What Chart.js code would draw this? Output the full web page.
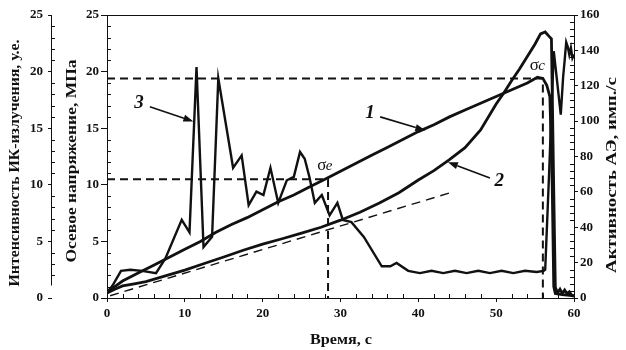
<!DOCTYPE html>
<html>
<head>
<meta charset="utf-8">
<script src="https://cdn.jsdelivr.net/npm/chart.js@4.4.1/dist/chart.umd.min.js"></script>
<style>
  html, body { margin: 0; padding: 0; background: #fff; }
</style>
</head>
<body>
<canvas id="chart" width="626" height="350"></canvas>
<script>
/* Curve 1 — axial stress, MPa (middle left axis) */
const stressTime = [0, 1, 2, 4, 6, 8, 10, 12, 14, 16, 18, 20, 22, 24, 26, 28, 30, 32, 34, 36, 38,
  40, 42, 44, 46, 48, 50, 52, 54, 55.3, 56.0, 56.5, 56.9, 57.2, 57.4, 57.6, 58.5, 60];
const stressValues = [0.6, 1.0, 1.5, 2.2, 2.9, 3.6, 4.3, 5.0, 5.8, 6.5, 7.1, 7.8, 8.5, 9.1, 9.8, 10.5,
  11.2, 11.9, 12.6, 13.3, 14.0, 14.7, 15.3, 16.0, 16.6, 17.2, 17.8, 18.4, 19.0, 19.5, 19.4, 18.8,
  17.8, 10.0, 1.0, 0.4, 0.3, 0.2];

/* Curve 2 — acoustic emission activity, imp/s (right axis) */
const aeTime = [0, 1, 2, 3.5, 5, 7.5, 10, 12.5, 15, 17.5, 20, 22.5, 25, 27.5, 30, 32.5, 35, 37.5,
  40, 42, 44, 46, 48, 50, 51, 52, 53, 54, 55, 55.7, 56.3, 56.8, 57.1, 57.4, 57.6, 57.9, 58.2,
  58.5, 58.8, 59.1, 59.4, 59.7, 60];
const aeValues = [2.8, 5, 6.8, 8, 9.3, 12.5, 15.8, 19.5, 23.2, 27, 30.5, 33.5, 36.7, 40, 44, 48.5,
  53.7, 59.5, 66.7, 72, 78.2, 85, 95, 109.7, 116, 123, 129.5, 136.5, 143.6, 149.3, 150.4, 147.9,
  146.5, 60, 6, 3, 5, 2.5, 4.5, 2.5, 3.5, 1.5, 1];

/* Curve 3 — IR emission intensity, a.u. (outer left axis) */
const irTime = [0, 0.8, 1.8, 3.0, 4.5, 6.3, 7.5, 9.6, 10.6, 11.5, 12.4, 13.5, 14.3, 16.2, 17.3,
  18.2, 19.2, 20.1, 21.0, 22.0, 23.1, 24.0, 24.8, 25.4, 26.0, 26.7, 27.6, 28.6, 29.6, 30.3, 31.4,
  33.0, 35.3, 36.4, 37.2, 38.7, 40.2, 41.7, 43.2, 44.7, 46.2, 47.7, 49.2, 50.7, 52.2, 53.7, 55.2,
  56.1, 56.3, 56.8, 57.4, 58.3, 58.6, 58.8, 59.0, 59.2, 59.4, 59.6, 59.8, 60];
const irValues = [0.4, 1.2, 2.4, 2.5, 2.4, 2.2, 3.5, 6.9, 5.8, 20.4, 4.5, 5.4, 19.4, 11.5, 12.6,
  8.2, 9.4, 9.1, 11.5, 8.4, 10.4, 10.7, 12.9, 12.3, 10.7, 8.4, 9.1, 7.3, 8.4, 6.9, 6.7, 5.4, 2.8,
  2.8, 3.1, 2.4, 2.2, 2.4, 2.2, 2.4, 2.2, 2.4, 2.2, 2.4, 2.2, 2.4, 2.3, 2.4, 2.5, 11, 21.8, 16.2,
  19.5, 21.0, 22.6, 22.2, 21.5, 22.1, 21.2, 21.5];

/* Characteristic stresses and the tangent to curve 2 */
const sigmaE = 10.5, sigmaETime = 28.4;
const sigmaC = 19.4, sigmaCTime = 56.0;
const tangentTime = [0.4, 44.1];
const tangentValues = [0.2, 9.3];

const xTicks = [0, 10, 20, 30, 40, 50, 60];

const SERIF = '"Liberation Serif", "DejaVu Serif", serif';
const INK = '#111';

const pts = (xs, ys) => xs.map((x, i) => ({ x, y: ys[i] }));

function line(ctx, x1, y1, x2, y2) {
  ctx.beginPath();
  ctx.moveTo(x1, y1);
  ctx.lineTo(x2, y2);
  ctx.stroke();
}

function arrow(ctx, x1, y1, x2, y2) {
  const ang = Math.atan2(y2 - y1, x2 - x1);
  const len = 10, half = 3.6;
  const bx = x2 - len * Math.cos(ang), by = y2 - len * Math.sin(ang);
  ctx.lineWidth = 1.6;
  line(ctx, x1, y1, bx, by);
  ctx.beginPath();
  ctx.moveTo(x2, y2);
  ctx.lineTo(bx + half * Math.sin(ang), by - half * Math.cos(ang));
  ctx.lineTo(bx - half * Math.sin(ang), by + half * Math.cos(ang));
  ctx.closePath();
  ctx.fill();
}

/* Draw a rotated title stretched to the length it has in the picture */
function fittedText(ctx, text, cx, cy, length, rot, font) {
  ctx.save();
  ctx.translate(cx, cy);
  ctx.rotate(rot);
  ctx.font = font;
  const w = ctx.measureText(text).width;
  ctx.scale(length / w, 1);
  ctx.textAlign = 'center';
  ctx.textBaseline = 'middle';
  ctx.fillText(text, 0, 0);
  ctx.restore();
}

function sigmaLabel(ctx, sub, px, py) {
  ctx.textAlign = 'left';
  ctx.textBaseline = 'alphabetic';
  ctx.font = `17px ${SERIF}`;
  ctx.fillText('σ', px, py);
  const w = ctx.measureText('σ').width;
  ctx.font = `italic 15px ${SERIF}`;
  ctx.fillText(sub, px + w - 0.5, py);
}

/* Everything Chart.js has no option for: inner minor ticks, top frame,
   the short outer axis line, axis titles and the curve labels. */
const decor = {
  id: 'decor',
  afterDraw(chart) {
    const { ctx, chartArea: a } = chart;
    const { x, yS, yIR, yAE } = chart.scales;
    ctx.save();
    ctx.strokeStyle = INK;
    ctx.fillStyle = INK;
    ctx.lineWidth = 1;

    line(ctx, a.left, a.top + 0.5, a.right, a.top + 0.5);

    const irX = Math.round(yIR.right) - 0.5;
    line(ctx, irX, yIR.getPixelForValue(1.1), irX, yIR.getPixelForValue(25));

    for (let v = 2; v < 60; v += 2) {
      if (v % 10 === 0) continue;
      const px = Math.round(x.getPixelForValue(v)) + 0.5;
      line(ctx, px, a.bottom, px, a.bottom - 4);
    }
    for (let v = 1; v < 25; v++) {
      if (v % 5 === 0) continue;
      const py = Math.round(yS.getPixelForValue(v)) + 0.5;
      line(ctx, a.left, py, a.left + 4, py);
      const qy = Math.round(yIR.getPixelForValue(v)) + 0.5;
      if (v > 1) line(ctx, irX, qy, irX + 3.5, qy);
    }
    for (let v = 4; v < 160; v += 4) {
      if (v % 20 === 0) continue;
      const py = Math.round(yAE.getPixelForValue(v)) + 0.5;
      line(ctx, a.right, py, a.right - 4, py);
    }

    const titleFont = `bold 15px ${SERIF}`;
    fittedText(ctx, 'Интенсивность ИК-излучения, у.е.', yIR.left + 15, 163, 247, -Math.PI / 2, titleFont);
    fittedText(ctx, 'Осевое напряжение, МПа', yS.left + 20, 161, 203, -Math.PI / 2, titleFont);
    fittedText(ctx, 'Активность АЭ, имп./с', yAE.left + 38, 175, 196, -Math.PI / 2, titleFont);
    fittedText(ctx, 'Время, с', (a.left + a.right) / 2 + 0.5, x.top + 42, 62, 0, titleFont);

    const X = (t) => x.getPixelForValue(t);
    const Y = (v) => yS.getPixelForValue(v);

    ctx.font = `italic bold 19px ${SERIF}`;
    ctx.textAlign = 'center';
    ctx.textBaseline = 'middle';
    ctx.fillText('3', X(4.1), Y(17.2));
    ctx.fillText('1', X(33.8), Y(16.3));
    ctx.fillText('2', X(50.4), Y(10.3));
    arrow(ctx, X(5.5), Y(16.9), X(11.1), Y(15.6));
    arrow(ctx, X(35.1), Y(16.0), X(40.9), Y(14.8));
    arrow(ctx, X(49.2), Y(10.6), X(43.8), Y(12.0));

    sigmaLabel(ctx, 'e', X(27.0), Y(11.3));
    sigmaLabel(ctx, 'c', X(54.3), Y(20.1));
    ctx.restore();
  },
};

const tickFont = { family: SERIF, size: 13, weight: 'bold' };
const curve = (data, axis, width) => ({
  data, yAxisID: axis, borderColor: INK, borderWidth: width,
  pointRadius: 0, tension: 0, fill: false,
});
const dashed = (data, width, dash) => ({
  data, yAxisID: 'yS', borderColor: INK, borderWidth: width, borderDash: dash,
  pointRadius: 0, tension: 0, fill: false,
});
const yScale = (position, max, step, weight, width, tickLength, padding) => ({
  type: 'linear', position, min: 0, max, weight,
  afterFit: (s) => { s.width = width; },
  ticks: { stepSize: step, color: INK, font: tickFont, padding },
  grid: { drawOnChartArea: false, color: INK, tickLength, tickWidth: 1 },
  border: { color: INK, width: 1 },
});

new Chart(document.getElementById('chart'), {
  type: 'line',
  data: {
    datasets: [
      dashed(pts([0, sigmaETime, sigmaETime], [sigmaE, sigmaE, 0]), 2, [8, 5]),
      dashed(pts([0, sigmaCTime, sigmaCTime], [sigmaC, sigmaC, 0]), 2, [8, 5]),
      dashed(pts(tangentTime, tangentValues), 1.4, [9, 6]),
      curve(pts(irTime, irValues), 'yIR', 2.4),
      curve(pts(aeTime, aeValues), 'yAE', 2.8),
      curve(pts(stressTime, stressValues), 'yS', 2.8),
    ],
  },
  options: {
    responsive: false,
    animation: false,
    layout: { padding: { top: 15, left: 0, right: 0, bottom: 0 } },
    plugins: { legend: { display: false }, tooltip: { enabled: false } },
    scales: {
      x: {
        type: 'linear', min: 0, max: 60,
        afterFit: (s) => { s.height = 52; },
        afterBuildTicks: (s) => { s.ticks = xTicks.map((value) => ({ value })); },
        ticks: { color: INK, font: tickFont, padding: 4, maxRotation: 0 },
        grid: { drawOnChartArea: false, color: INK, tickLength: 4 },
        border: { color: INK, width: 1 },
      },
      yIR: { ...yScale('left', 25, 5, 10, 52, 4, 5), border: { display: false } },
      yS: yScale('left', 25, 5, 0, 55, 6, 2),
      yAE: yScale('right', 160, 20, 0, 52, 4, 2),
    },
  },
  plugins: [decor],
});
</script>
</body>
</html>
